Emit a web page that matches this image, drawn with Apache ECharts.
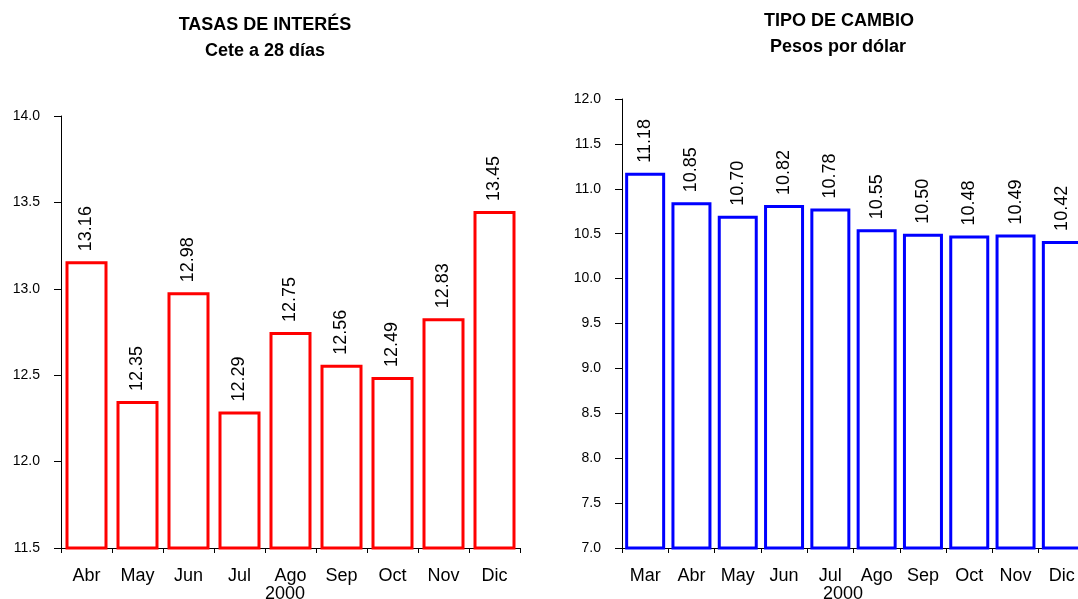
<!DOCTYPE html>
<html>
<head>
<meta charset="utf-8">
<script src="https://cdn.jsdelivr.net/npm/echarts@6/dist/echarts.min.js"></script>
<style>
html, body { margin: 0; padding: 0; background: #fff; overflow: hidden; }
#chart { width: 1078px; height: 599px; }
</style>
</head>
<body>
<div id="chart"></div>
<script>
// Tasas de interés: Cete a 28 días
const rateMonths = ['Abr', 'May', 'Jun', 'Jul', 'Ago', 'Sep', 'Oct', 'Nov', 'Dic'];
const rateValues = [13.16, 12.35, 12.98, 12.29, 12.75, 12.56, 12.49, 12.83, 13.45];

// Tipo de cambio: pesos por dólar
const fxMonths = ['Mar', 'Abr', 'May', 'Jun', 'Jul', 'Ago', 'Sep', 'Oct', 'Nov', 'Dic'];
const fxValues = [11.18, 10.85, 10.70, 10.82, 10.78, 10.55, 10.50, 10.48, 10.49, 10.42];

const yearLabel = '2000';

const FONT = '"Liberation Sans", Arial, sans-serif';

function xAxis(gridIndex, data) {
  return {
    type: 'category', gridIndex, data,
    boundaryGap: true,
    axisLine: { lineStyle: { color: '#000', width: 1 } },
    axisTick: { show: true, length: 5, lineStyle: { color: '#000' } },
    axisLabel: { color: '#000', fontFamily: FONT, fontSize: 18, margin: 19, interval: 0 },
    splitLine: { show: false }
  };
}
function yAxis(gridIndex, min, max) {
  return {
    type: 'value', gridIndex, min, max, interval: 0.5,
    axisLine: { show: true, lineStyle: { color: '#000', width: 1 } },
    axisTick: { show: true, length: 7, lineStyle: { color: '#000' } },
    axisLabel: { color: '#000', fontFamily: FONT, fontSize: 14, margin: 21,
      formatter: v => v.toFixed(1) },
    splitLine: { show: false }
  };
}
function barSeries(idx, data, color, width) {
  return {
    type: 'bar', xAxisIndex: idx, yAxisIndex: idx, data,
    barWidth: width,
    itemStyle: { color: '#fff', borderColor: color, borderWidth: 3 },
    label: {
      show: true, position: 'top', rotate: 90, distance: 10,
      align: 'left', verticalAlign: 'middle',
      color: '#000', fontFamily: FONT, fontSize: 18,
      formatter: p => p.value.toFixed(2)
    },
    silent: true
  };
}

function title(x, y, text, bold) {
  return { type: 'text', x, y, style: { text, align: 'center', verticalAlign: 'middle',
    font: (bold ? 'bold ' : '') + '18px ' + FONT, fill: '#000' } };
}

const chart = echarts.init(document.getElementById('chart'));
chart.setOption({
  backgroundColor: '#fff',
  animation: false,
  grid: [
    { left: 61, top: 116, width: 459, height: 432, outerBoundsMode: 'none' },
    { left: 622, top: 99, width: 463, height: 449, outerBoundsMode: 'none' }
  ],
  xAxis: [xAxis(0, rateMonths), xAxis(1, fxMonths)],
  yAxis: [yAxis(0, 11.5, 14), yAxis(1, 7, 12)],
  series: [
    barSeries(0, rateValues, '#ff0000', 42),
    barSeries(1, fxValues, '#0000ff', 40)
  ],
  graphic: [
    title(265, 25, 'TASAS DE INTERÉS', true),
    title(265, 51, 'Cete a 28 días', true),
    title(839, 21, 'TIPO DE CAMBIO', true),
    title(838, 47, 'Pesos por dólar', true),
    { type: 'text', x: 285, y: 585, style: { text: yearLabel, align: 'center', verticalAlign: 'top',
      font: '18px ' + FONT, fill: '#000' } },
    { type: 'text', x: 843, y: 585, style: { text: yearLabel, align: 'center', verticalAlign: 'top',
      font: '18px ' + FONT, fill: '#000' } }
  ]
});
</script>
</body>
</html>
